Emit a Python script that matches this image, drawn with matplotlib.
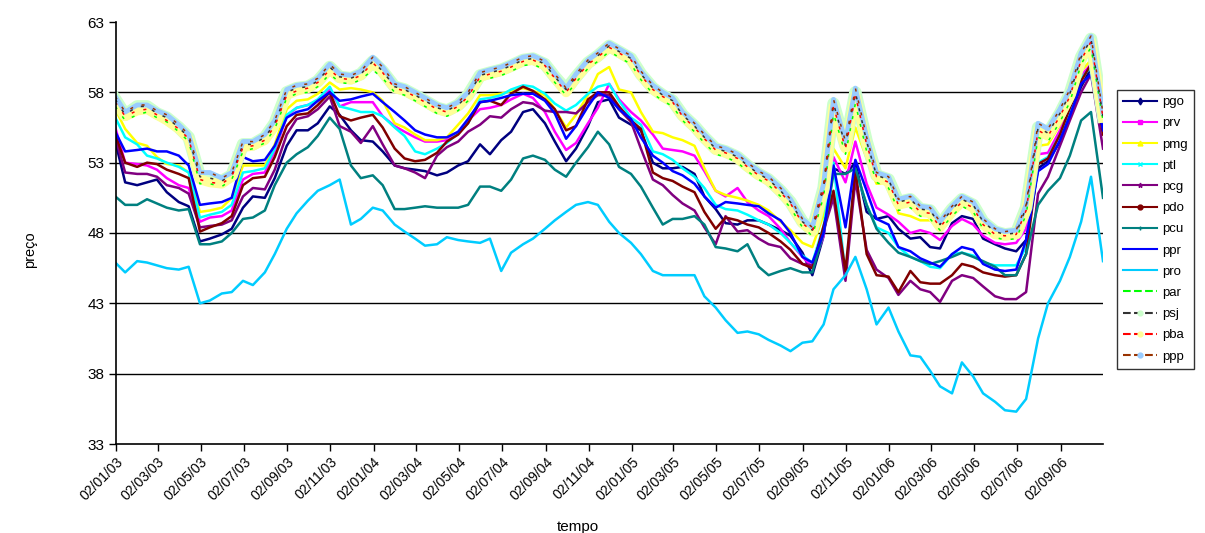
import matplotlib
matplotlib.use('Agg')
import matplotlib.pyplot as plt
from matplotlib.lines import Line2D
import pandas as pd

plt.rcParams['font.family'] = ['Liberation Sans', 'DejaVu Sans']

# semi-monthly readings (1st and 15th) from Jan 2003 to Nov 2006
dates = pd.date_range('2003-01-01', periods=93, freq='SMS')

pgo = [54.5, 51.6, 51.4, 51.6, 51.8, 50.9, 50.2, 49.9, 47.4, 47.6,
       47.9, 48.3, 49.8, 50.6, 50.5, 51.9, 54.2, 55.3, 55.3, 55.8,
       57.0, 56.4, 55.3, 54.6, 54.5, 53.8, 52.8, 52.6, 52.5, 52.4,
       52.1, 52.3, 52.8, 53.1, 54.3, 53.6, 54.6, 55.2, 56.6, 56.8,
       55.8, 54.5, 53.1, 54.0, 55.6, 57.3, 57.5, 56.2, 55.7, 55.3,
       53.0, 52.6, 52.6, 52.7, 52.2, 50.6, 49.7, 48.7, 48.6, 48.9,
       48.9, 48.6, 48.2, 47.8, 46.6, 45.0, 47.8, 52.6, 52.2, 53.0,
       49.5, 49.0, 49.2, 48.3, 47.6, 47.7, 47.0, 46.9, 48.7, 49.2,
       49.0, 47.6, 47.2, 46.9, 46.7, 47.5, 52.6, 53.1, 54.5, 56.4,
       58.4, 59.7, 55.5]
prv = [55.5, 53.0, 52.9, 52.8, 52.5, 51.9, 51.4, 51.2, 48.8, 49.1,
       49.2, 49.6, 51.8, 52.2, 52.3, 53.8, 56.3, 56.9, 57.1, 57.4,
       58.2, 57.0, 57.3, 57.3, 57.3, 56.3, 55.6, 55.2, 54.8, 54.5,
       54.5, 54.6, 55.1, 56.0, 56.8, 56.9, 57.1, 57.5, 57.9, 57.6,
       56.6, 55.2, 53.9, 54.4, 55.8, 56.9, 58.6, 57.5, 56.6, 56.0,
       55.0, 54.0, 53.9, 53.8, 53.5, 52.4, 51.0, 50.6, 51.2, 50.2,
       49.6, 49.2, 48.3, 47.3, 46.3, 45.6, 47.8, 53.4, 51.6, 54.5,
       51.5, 49.8, 49.3, 48.8, 48.0, 48.2, 48.0, 47.5, 48.5, 49.0,
       48.6, 47.8, 47.3, 47.2, 47.3, 48.3, 53.6, 53.7, 55.3, 56.9,
       59.2, 60.0, 55.5]
pmg = [56.8, 55.4, 54.4, 54.2, 53.4, 52.9, 52.8, 52.3, 49.5, 49.6,
       49.8, 50.5, 52.8, 52.8, 52.8, 54.3, 56.8, 57.4, 57.5, 57.9,
       58.7, 58.2, 58.3, 58.2, 58.0, 57.4, 55.8, 55.5, 55.0, 54.6,
       54.6, 54.8, 55.7, 56.5, 57.8, 57.8, 57.9, 58.1, 58.3, 58.1,
       57.8, 56.8, 55.5, 56.4, 57.8, 59.3, 59.8, 58.2, 58.0, 56.6,
       55.2, 55.1, 54.8, 54.6, 54.2, 52.6, 51.0, 50.7, 50.5, 50.3,
       50.0, 49.6, 48.8, 48.2, 47.3, 47.0, 49.3, 54.0, 52.6, 55.5,
       53.3, 51.5, 51.6, 49.4, 49.2, 48.9, 48.9, 48.4, 49.6, 50.1,
       49.9, 48.9, 48.0, 47.9, 48.2, 49.5, 54.2, 54.3, 55.7, 57.2,
       59.5, 60.3, 55.8]
ptl = [56.2, 54.8, 54.3, 53.5, 53.3, 53.0, 52.7, 52.3, 49.1, 49.3,
       49.5, 50.0, 52.3, 52.4, 52.6, 54.0, 56.4, 56.9, 57.1, 57.5,
       58.4, 57.0, 56.8, 56.6, 56.6, 56.3, 55.5, 54.9, 53.8, 53.6,
       54.0, 54.4, 55.1, 55.8, 57.5, 57.6, 57.8, 58.2, 58.5, 58.4,
       57.9, 57.2, 56.7, 57.1, 57.9, 58.4, 58.6, 57.4, 56.2, 55.7,
       53.8, 53.6, 53.2, 52.6, 52.0, 51.2, 50.0, 49.7, 49.6, 49.3,
       48.9, 48.6, 48.0, 47.3, 46.4, 45.9, 48.5, 53.0, 45.0, 52.5,
       50.0, 48.4, 48.0, 47.0, 46.3, 46.0, 45.6, 45.5, 46.5, 46.6,
       46.4, 45.9, 45.7, 45.7, 45.7, 47.0, 53.0, 53.4, 55.0, 56.8,
       59.0, 59.8, 55.5]
pcg = [54.8, 52.3, 52.2, 52.2, 52.0, 51.4, 51.2, 50.8, 48.4, 48.5,
       48.6, 48.9, 50.6, 51.2, 51.1, 52.5, 55.0, 56.1, 56.3, 56.8,
       57.7, 55.6, 55.2, 54.4, 55.6, 54.3, 52.8, 52.6, 52.3, 51.9,
       53.5, 54.1, 54.5, 55.2, 55.7, 56.3, 56.2, 56.8, 57.3, 57.2,
       56.7, 56.6, 56.6, 56.5, 57.3, 57.8, 57.8, 56.8, 55.9, 54.0,
       51.8, 51.4, 50.7, 50.1, 49.6, 48.4, 47.2, 49.2, 48.1, 48.2,
       47.6, 47.2, 47.0, 46.2, 45.8, 45.7, 48.2, 50.5, 44.6, 51.8,
       46.8, 45.4, 44.8, 43.6, 44.6, 44.0, 43.8, 43.1, 44.6, 45.0,
       44.8, 44.2, 43.5, 43.3, 43.3, 43.8, 50.8, 52.0, 54.2, 56.0,
       58.0, 59.3, 54.0]
pdo = [55.0, 53.0, 52.7, 53.0, 52.9, 52.5, 52.2, 51.9, 48.1, 48.4,
       48.7, 49.2, 51.4, 51.9, 52.0, 53.4, 55.6, 56.4, 56.5, 57.1,
       58.0, 56.3, 56.0, 56.2, 56.4, 55.5, 54.0, 53.3, 53.1, 53.2,
       53.7, 54.5, 55.0, 55.8, 57.3, 57.4, 57.1, 57.9, 58.4, 58.1,
       57.5, 56.8, 55.3, 55.6, 57.5, 58.0, 58.0, 57.0, 56.0, 55.4,
       52.3, 51.9, 51.7, 51.3, 50.9, 49.5, 48.3, 49.1, 48.9, 48.6,
       48.4, 48.0, 47.4, 46.8, 45.8, 45.5, 48.5, 51.0, 45.3, 52.5,
       46.5, 45.0, 44.9, 43.8, 45.3, 44.5, 44.4, 44.4, 45.0, 45.8,
       45.6, 45.2, 45.0, 44.9, 45.0, 46.5, 52.9, 53.3, 55.0, 56.9,
       58.8, 60.0, 55.0]
pcu = [50.6, 50.0, 50.0, 50.4, 50.1, 49.8, 49.6, 49.7, 47.2, 47.2,
       47.4, 48.0, 49.0, 49.1, 49.6, 51.4, 53.0, 53.6, 54.1, 54.9,
       56.2, 55.4, 52.8, 51.9, 52.1, 51.4, 49.7, 49.7, 49.8, 49.9,
       49.8, 49.8, 49.8, 50.0, 51.3, 51.3, 51.0, 51.8, 53.3, 53.5,
       53.2, 52.5, 52.0, 53.0, 54.1, 55.2, 54.3, 52.7, 52.2, 51.3,
       49.8, 48.6, 49.0, 49.0, 49.2, 48.6, 47.0, 46.9, 46.7, 47.2,
       45.6, 45.0, 45.3, 45.5, 45.2, 45.2, 48.0, 52.2, 52.2, 52.6,
       50.0, 48.3, 47.3, 46.6, 46.3, 46.0, 45.8, 46.0, 46.3, 46.6,
       46.3, 46.0, 45.6, 45.0, 45.0, 46.5, 50.0, 51.0, 51.9, 53.5,
       56.0, 56.6, 50.5]
ppr = [55.2, 53.8, 53.9, 54.0, 53.8, 53.8, 53.5, 52.8, 50.0, 50.1,
       50.2, 50.5, 53.4, 53.1, 53.2, 54.2, 56.2, 56.6, 56.8, 57.4,
       58.0, 57.4, 57.5, 57.7, 57.9, 57.3, 56.6, 56.0, 55.3, 55.0,
       54.8, 54.8, 55.2, 56.1, 57.3, 57.4, 57.6, 57.8, 57.9, 57.9,
       57.4, 56.5, 54.7, 55.6, 57.0, 58.0, 57.6, 56.8, 56.1, 54.8,
       53.5, 53.0, 52.4, 52.1, 51.5, 50.6, 49.8, 50.2, 50.1, 50.0,
       49.9, 49.4, 48.9, 48.0, 46.3, 45.9, 48.0, 52.8, 48.4, 53.2,
       51.0, 49.0, 48.6, 47.0, 46.7, 46.2, 45.9, 45.6, 46.5, 47.0,
       46.8, 45.8, 45.4, 45.3, 45.4, 47.5, 52.4, 52.9, 54.6, 56.3,
       58.6, 59.3, 55.3]
pro = [45.9, 45.2, 46.0, 45.9, 45.7, 45.5, 45.4, 45.6, 43.0, 43.2,
       43.7, 43.8, 44.6, 44.3, 45.2, 46.5, 48.3, 49.4, 50.3, 51.0,
       51.4, 51.8, 48.6, 49.0, 49.8, 49.6, 48.6, 48.1, 47.6, 47.1,
       47.2, 47.7, 47.5, 47.4, 47.3, 47.6, 45.3, 46.6, 47.2, 47.6,
       48.3, 48.9, 49.5, 50.0, 50.2, 50.0, 48.8, 48.0, 47.3, 46.5,
       45.3, 45.0, 45.0, 45.0, 45.0, 43.5, 42.7, 41.8, 40.9, 41.0,
       40.8, 40.4, 40.0, 39.6, 40.2, 40.3, 41.5, 44.0, 45.0, 46.3,
       44.0, 41.5, 42.7, 41.0, 39.3, 39.2, 38.2, 37.1, 36.6, 38.8,
       37.8, 36.6, 36.0, 35.4, 35.3, 36.2, 40.5, 43.0, 44.6, 46.3,
       48.8, 52.0, 46.0]
par = [57.0, 56.0, 56.4, 56.6, 56.2, 55.9, 55.2, 54.5, 51.5, 51.5,
       51.3, 51.8, 53.8, 54.0, 54.4, 55.4, 57.6, 57.9, 58.0, 58.4,
       59.3, 58.7, 58.6, 58.9, 59.6, 59.0, 58.0, 57.8, 57.4, 57.0,
       56.5, 56.3, 56.7, 57.4, 58.8, 59.0, 59.2, 59.5, 59.9, 60.0,
       59.6, 58.7, 57.8, 58.7, 59.7, 60.2, 60.9, 60.5, 60.0, 58.9,
       57.9, 57.4, 57.0, 56.0, 55.2, 54.4, 53.6, 53.4, 53.0, 52.4,
       51.8, 51.4, 50.6, 49.8, 48.4, 47.8, 50.6, 56.5, 53.6, 57.2,
       53.8, 51.6, 51.2, 49.6, 49.8, 49.2, 49.0, 48.2, 49.2, 49.9,
       49.5, 48.3, 47.7, 47.5, 47.6, 49.3, 54.8, 54.5, 55.9, 57.3,
       60.0, 61.2, 56.0]
psj = [57.5, 56.4, 57.0, 57.0, 56.5, 56.2, 55.5, 54.8, 52.0, 51.9,
       51.7, 52.1, 54.3, 54.3, 54.8, 55.8, 58.0, 58.3, 58.4, 58.8,
       59.8, 59.1, 59.0, 59.3, 60.2, 59.5, 58.4, 58.2, 57.8, 57.4,
       56.9, 56.7, 57.1, 57.8, 59.2, 59.4, 59.6, 59.9, 60.3, 60.4,
       60.0, 59.1, 58.2, 59.1, 60.1, 60.6, 61.3, 60.9, 60.4, 59.3,
       58.3, 57.8, 57.4, 56.4, 55.6, 54.8, 54.0, 53.8, 53.4, 52.8,
       52.2, 51.8, 51.0, 50.2, 48.8, 48.2, 51.2, 57.2, 54.2, 58.0,
       54.5, 52.1, 51.8, 50.2, 50.4, 49.7, 49.6, 48.6, 49.7, 50.4,
       50.0, 48.8, 48.1, 47.9, 48.0, 49.8, 55.5, 55.1, 56.5, 57.9,
       60.5, 61.8, 56.3]
pba = [57.3, 56.3, 56.7, 56.8, 56.4, 56.0, 55.4, 54.7, 51.8, 51.6,
       51.5, 52.0, 54.1, 54.2, 54.6, 55.6, 57.8, 58.1, 58.3, 58.7,
       59.6, 59.0, 58.9, 59.2, 60.1, 59.4, 58.3, 58.1, 57.7, 57.3,
       56.8, 56.6, 57.0, 57.7, 59.1, 59.3, 59.5, 59.8, 60.2, 60.3,
       59.9, 59.0, 58.0, 59.0, 60.0, 60.5, 61.2, 60.8, 60.3, 59.2,
       58.2, 57.7, 57.3, 56.3, 55.5, 54.7, 53.9, 53.7, 53.3, 52.7,
       52.1, 51.7, 50.9, 50.1, 48.7, 48.1, 51.0, 57.0, 54.0, 57.8,
       54.3, 52.0, 51.6, 50.0, 50.2, 49.5, 49.4, 48.4, 49.5, 50.2,
       49.8, 48.6, 47.9, 47.8, 47.9, 49.6, 55.3, 54.9, 56.3, 57.7,
       60.3, 61.6, 56.2]
ppp = [57.7, 56.6, 57.1, 57.1, 56.7, 56.4, 55.7, 55.0, 52.3, 52.3,
       51.9, 52.3, 54.5, 54.5, 55.0, 56.0, 58.2, 58.5, 58.6, 59.0,
       60.0, 59.3, 59.2, 59.5, 60.5, 59.8, 58.6, 58.4, 58.0, 57.6,
       57.1, 56.9, 57.3, 58.0, 59.4, 59.6, 59.8, 60.1, 60.5, 60.6,
       60.2, 59.3, 58.3, 59.3, 60.3, 60.8, 61.5, 61.1, 60.6, 59.5,
       58.5, 58.0, 57.6, 56.6, 55.8, 55.0, 54.2, 54.0, 53.6, 53.0,
       52.4, 52.0, 51.2, 50.4, 49.0, 48.4, 51.5, 57.5, 54.5, 58.3,
       54.8, 52.3, 52.0, 50.4, 50.6, 49.9, 49.8, 48.8, 49.9, 50.6,
       50.2, 49.0, 48.3, 48.1, 48.2, 50.0, 55.8, 55.4, 56.8, 58.2,
       60.8, 62.0, 56.5]

# name, values, line colour, linestyle, marker, marker colour
series = [
    ('pgo', pgo, '#000080', '-', 'd', '#000080'),
    ('prv', prv, '#FF00FF', '-', 's', '#FF00FF'),
    ('pmg', pmg, '#FFFF00', '-', '^', '#FFFF00'),
    ('ptl', ptl, '#00FFFF', '-', 'x', '#00FFFF'),
    ('pcg', pcg, '#800080', '-', '*', '#800080'),
    ('pdo', pdo, '#800000', '-', 'o', '#800000'),
    ('pcu', pcu, '#008080', '-', '+', '#008080'),
    ('ppr', ppr, '#0000FF', '-', None, None),
    ('pro', pro, '#00CCFF', '-', None, None),
    ('par', par, '#00FF00', '--', None, None),
    ('psj', psj, '#333333', '--', 'o', '#CCFFCC'),
    ('pba', pba, '#FF0000', '--', 'o', '#FFFF99'),
    ('ppp', ppp, '#993300', '--', 'o', '#99CCFF'),
]
# width of the pale marker band under the dashed series
band_lw = {'psj': 9, 'pba': 7, 'ppp': 3.5}

fig = plt.figure(figsize=(12.05, 5.33), dpi=100)
ax = fig.add_axes([116/1205, 1-444/533, (1103-116)/1205, (444-22)/533])

handles = []
for name, vals, col, ls, mk, mcol in series:
    if ls == '--':
        continue
    ax.plot(dates, vals, color=col, lw=1.8)

# marker bands first, dashed lines on top
for name, vals, col, ls, mk, mcol in series:
    if ls == '--' and mcol:
        ax.plot(dates, vals, color=mcol, lw=band_lw[name])
for name, vals, col, ls, mk, mcol in series:
    if ls == '--':
        ax.plot(dates, vals, color=col, lw=1.1, ls=(0, (2, 6)))

for name, vals, col, ls, mk, mcol in series:
    handles.append(Line2D([], [], color=col, lw=1.5, ls=ls, marker=mk,
                          markersize=3.5, markerfacecolor=mcol, markeredgecolor=mcol))

ax.set_ylim(33, 63)
ax.set_yticks(range(33, 64, 5))
ax.set_xlim(pd.Timestamp('2003-01-02'), pd.Timestamp('2006-11-01'))
ticks = [pd.Timestamp(2003 + m // 12, m % 12 + 1, 2) for m in range(0, 45, 2)]
ax.set_xticks(ticks)
ax.set_xticklabels([t.strftime('%d/%m/%y') for t in ticks], rotation=45,
                   ha='right', rotation_mode='anchor', fontsize=10)
ax.tick_params(axis='y', labelsize=11, direction='out', length=5, width=1)
ax.tick_params(axis='x', direction='out', length=5, width=1, pad=3)

ax.grid(axis='y', color='black', lw=1)
ax.get_ygridlines()[-1].set_visible(False)
ax.get_ygridlines()[0].set_visible(False)
for s in ['top', 'right']:
    ax.spines[s].set_visible(False)
for s in ['left', 'bottom']:
    ax.spines[s].set_color('black')
    ax.spines[s].set_linewidth(1.2)

fig.text(30/1205, 1-250/533, 'preço', rotation=90, ha='center', va='center', fontsize=10.5)
fig.text(578/1205, 1-527/533, 'tempo', ha='center', va='center', fontsize=11)

leg = fig.legend(handles, [s[0] for s in series], loc='upper left',
                 bbox_to_anchor=(1117/1205, 1-90/533), fontsize=9.5,
                 handlelength=2.6, labelspacing=0.68, handletextpad=0.4,
                 borderpad=0.45, borderaxespad=0, frameon=True, fancybox=False)
leg.get_frame().set_edgecolor('black')
leg.get_frame().set_linewidth(1)

fig.savefig('out.png', dpi=100)
